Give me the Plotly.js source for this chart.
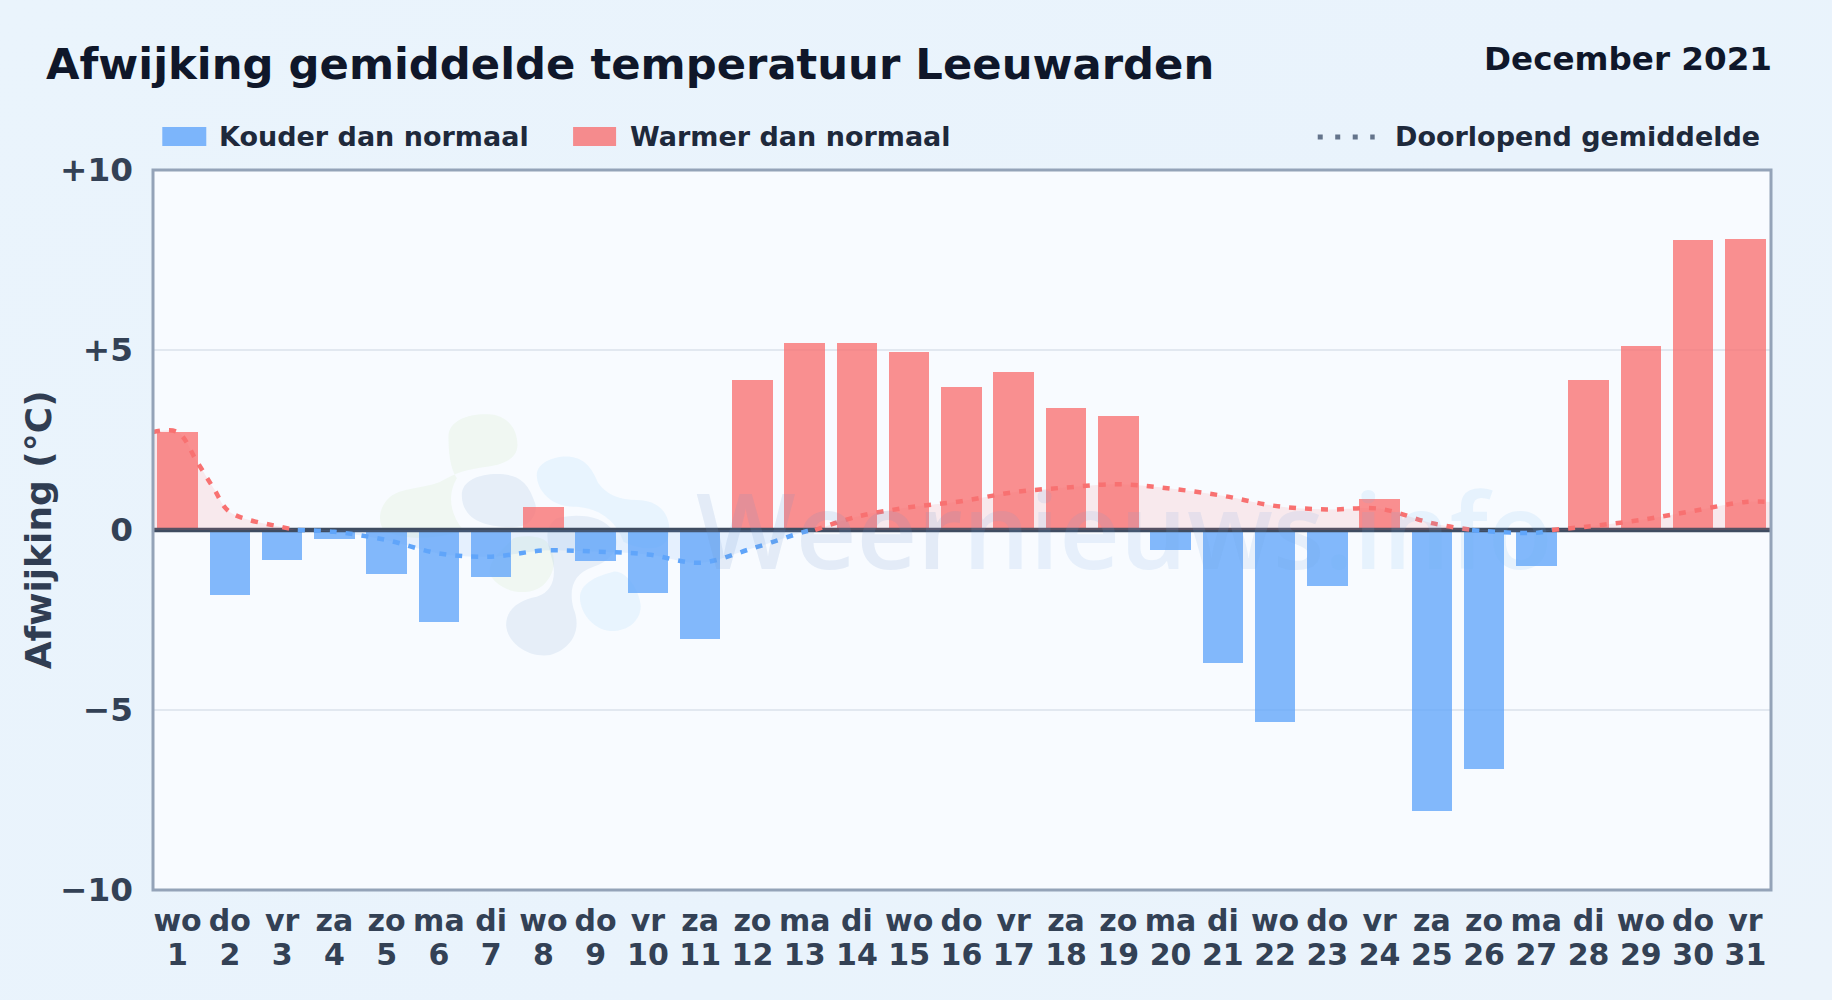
<!DOCTYPE html>
<html><head><meta charset="utf-8">
<script src="https://cdn.plot.ly/plotly-3.0.1.min.js"></script>
<style>html,body{margin:0;padding:0;width:1832px;height:1000px;overflow:hidden;background:linear-gradient(135deg,#eaf4fc 0%,#e9f3fc 60%,#ebf3fb 100%)}#c{width:1832px;height:1000px}</style>
</head><body><div id="c"></div>
<script>
const weekdays=['wo','do','vr','za','zo','ma','di','wo','do','vr','za','zo','ma','di','wo','do','vr','za','zo','ma','di','wo','do','vr','za','zo','ma','di','wo','do','vr'];
const days=[1,2,3,4,5,6,7,8,9,10,11,12,13,14,15,16,17,18,19,20,21,22,23,24,25,26,27,28,29,30,31];
const deviation=[2.72,-1.81,-0.83,-0.25,-1.21,-2.56,-1.30,0.64,-0.86,-1.74,-3.02,4.17,5.20,5.20,4.94,3.97,4.39,3.39,3.17,-0.55,-3.70,-5.32,-1.55,0.86,-7.80,-6.63,-0.99,4.17,5.11,8.06,8.08];
const warmAvgX1=[0.53,1,1.37,1.69,2,3,3.3];
const warmAvgY1=[2.72,2.72,1.9,1.16,0.5,0.08,0];
const coldAvgX1=[3.3,4,5,6,7,8,9,10,11,12,13,13.2];
const coldAvgY1=[0,-0.05,-0.28,-0.65,-0.74,-0.57,-0.60,-0.68,-0.91,-0.51,-0.05,0];
const warmAvgX2=[13.2,14,15,16,17,18,19,20,21,22,23,24,25,25.77];
const warmAvgY2=[0,0.37,0.63,0.80,1.05,1.18,1.27,1.15,0.95,0.67,0.57,0.59,0.19,0];
const coldAvgX2=[25.77,26,27,27.3];
const coldAvgY2=[0,-0.03,-0.08,0];
const warmAvgX3=[27.3,28,29,30,31,31.49];
const warmAvgY3=[0,0.1,0.28,0.53,0.78,0.78];
const yTicks=[10,5,0,-5,-10];
const yLabels=['+10','+5','0','\u22125','\u221210'];

const RED='#f87171',BLUE='#60a5fa',FONT='"DejaVu Sans",sans-serif';
const L=152.7,R=1771.5,T=170,B=890;
const fx=x=>(x-L)/(R-L), fy=y=>(B-y)/(B-T);
function logoPath(d){ // zoom-crop coordinates -> paper fractions
  return d.replace(/(-?[\d.]+),(-?[\d.]+)/g,(m,a,b)=>fx(360+a/3).toFixed(5)+','+fy(395+b/3).toFixed(5));
}
const blobs=[
 ['M265,125 C265,75 330,55 385,58 C440,60 472,100 472,150 C472,190 430,210 380,215 C320,222 285,235 250,255 C210,280 130,275 90,305 C55,335 50,385 75,410 C150,440 250,430 310,405 C270,360 260,300 290,250 C270,220 265,170 265,125 Z','rgba(190,225,160,0.14)'],
 ['M390,540 C420,590 500,610 550,570 C590,530 590,480 560,440 C540,420 480,420 460,430 C420,470 380,500 390,540 Z','rgba(190,225,160,0.14)'],
 ['M305,300 C305,250 375,232 430,238 C490,243 510,280 525,325 C535,355 510,395 470,395 C400,400 305,385 305,300 Z','rgba(130,165,205,0.15)'],
 ['M590,370 C650,355 730,360 760,410 C785,450 760,495 700,515 C640,535 625,580 640,640 C665,700 640,760 570,780 C500,790 440,740 438,690 C438,640 480,615 530,605 C580,590 590,540 575,490 C565,450 545,400 590,370 Z','rgba(130,165,205,0.15)'],
 ['M530,240 C530,200 590,180 630,185 C680,190 700,230 715,265 C740,300 780,315 830,315 C890,315 930,350 928,410 C925,470 850,470 790,440 C770,380 720,340 650,335 C580,340 530,290 530,240 Z','rgba(125,195,250,0.12)'],
 ['M660,600 C665,560 720,540 760,530 C800,525 840,590 842,635 C840,680 800,710 750,708 C700,705 655,650 660,600 Z','rgba(125,195,250,0.12)']
];
const shapes=blobs.map(b=>({type:'path',path:logoPath(b[0]),xref:'paper',yref:'paper',layer:'below',fillcolor:b[1],line:{width:0}}));
shapes.push({type:'rect',xref:'paper',yref:'paper',x0:0,x1:1,y0:0,y1:1,layer:'above',fillcolor:'rgba(0,0,0,0)',line:{color:'#94a3b8',width:3}});
shapes.push({type:'rect',xref:'paper',yref:'paper',x0:fx(162),x1:fx(206),y0:fy(127),y1:fy(146),fillcolor:BLUE,opacity:0.8,line:{width:0}});
shapes.push({type:'rect',xref:'paper',yref:'paper',x0:fx(573),x1:fx(616),y0:fy(127),y1:fy(146),fillcolor:RED,opacity:0.8,line:{width:0}});
shapes.push({type:'line',xref:'paper',yref:'paper',x0:fx(1318),x1:fx(1375),y0:fy(137),y1:fy(137),line:{color:'#64748b',width:5,dash:'5px,12.5px'}});

function ann(text,px,py,size,color,anchor){return {text:text,xref:'paper',yref:'paper',x:fx(px),y:fy(py),showarrow:false,xanchor:anchor,yanchor:'middle',font:{family:FONT,size:size,color:color,weight:700}};}
const annotations=[
 ann('Afwijking gemiddelde temperatuur Leeuwarden',43.5,64.5,43.3,'#0f172a','left'),
 ann('December 2021',1775,59,32.6,'#0f172a','right'),
 ann('Kouder dan normaal',217,137,27,'#1e293b','left'),
 ann('Warmer dan normaal',628,137,27,'#1e293b','left'),
 ann('Doorlopend gemiddelde',1393,137,27,'#1e293b','left'),
 {text:'Afwijking (°C)',xref:'paper',yref:'paper',x:fx(38),y:fy(530),textangle:-90,showarrow:false,xanchor:'center',yanchor:'middle',font:{family:FONT,size:36,color:'#303d52',weight:700}},
 {text:'<span style="color:rgba(110,150,200,0.15)">Weer</span><span style="color:rgba(110,165,225,0.13)">nieuws</span><span style="color:rgba(110,180,240,0.12)">.info</span>',
  xref:'paper',yref:'paper',x:fx(1124),y:fy(528),showarrow:false,xanchor:'center',yanchor:'middle',font:{family:'"Open Sans",sans-serif',size:105.5,weight:600}}
];
function avg(x,y,c,f){return {type:'scatter',mode:'lines',x:x,y:y,hoverinfo:'skip',showlegend:false,fill:'tozeroy',fillcolor:f,line:{color:c,width:4.5,shape:'spline',smoothing:1,dash:'7px,9px'}};}
const redF='rgba(248,113,113,0.13)',blueF='rgba(96,165,250,0.12)';
const data=[
 {type:'bar',x:days,y:deviation,width:0.775,marker:{color:deviation.map(v=>v<0?BLUE:RED),opacity:0.78,line:{width:0}},showlegend:false},
 {type:'scatter',mode:'lines',x:[0.53,31.49],y:[0,0],line:{color:'#3f4c61',width:4.5},hoverinfo:'skip',showlegend:false},
 avg(warmAvgX1,warmAvgY1,RED,redF),avg(coldAvgX1,coldAvgY1,BLUE,blueF),avg(warmAvgX2,warmAvgY2,RED,redF),avg(coldAvgX2,coldAvgY2,BLUE,blueF),avg(warmAvgX3,warmAvgY3,RED,redF),
 {type:'scatter',mode:'markers',x:days,y:days.map(()=>null),xaxis:'x2',showlegend:false,hoverinfo:'skip'}
];
const tick={family:FONT,size:30,color:'#334155',weight:700};
const layout={
 width:1832,height:1000,paper_bgcolor:'rgba(0,0,0,0)',plot_bgcolor:'#f8fbff',showlegend:false,
 margin:{l:L,r:1832-R,t:T,b:1000-B,pad:0},bargap:0,
 xaxis:{range:[0.53,31.49],tickmode:'array',tickvals:days,ticktext:weekdays,showgrid:false,zeroline:false,showline:false,ticks:'',tickfont:tick,tickangle:0,ticklabelstandoff:10},
 xaxis2:{overlaying:'x',side:'bottom',anchor:'y',range:[0.53,31.49],tickmode:'array',tickvals:days,ticktext:days.map(String),showgrid:false,zeroline:false,showline:false,ticks:'',tickfont:tick,tickangle:0,ticklabelstandoff:44},
 yaxis:{range:[-10,10],tickmode:'array',tickvals:yTicks,ticktext:yLabels,showgrid:true,gridcolor:'#e2e8f0',gridwidth:2,zeroline:false,showline:false,ticks:'',tickfont:{family:FONT,size:32.7,color:'#334155',weight:700},ticklabelstandoff:19},
 shapes:shapes,annotations:annotations
};
Plotly.newPlot('c',data,layout,{displayModeBar:false,responsive:false});
</script></body></html>
